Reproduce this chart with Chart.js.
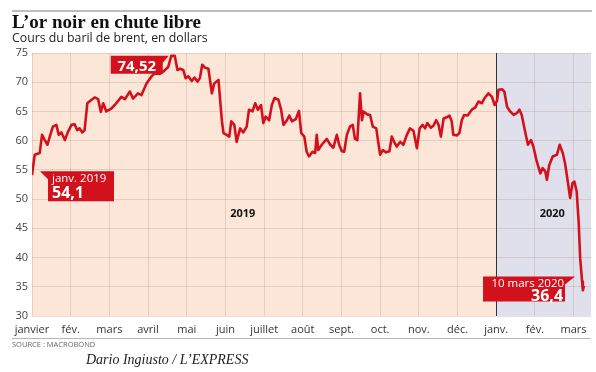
<!DOCTYPE html>
<html>
<head>
<meta charset="utf-8">
<script src="https://cdn.jsdelivr.net/npm/chart.js@4/dist/chart.umd.min.js"></script>
<style>
html,body{margin:0;padding:0;background:#fff;}
#wrap{width:596px;height:372px;position:relative;}
</style>
</head>
<body>
<div id="wrap"><canvas id="c" width="596" height="372"></canvas></div>
<script>
// Month tick labels (x = months since 1 Jan 2019)
const monthLabels = ['janvier','fév.','mars','avril','mai','juin','juillet','août','sept.','oct.','nov.','déc.','janv.','fév.','mars'];
const yearLabels = ['2019','2020'];
// Brent price, x in months since January 2019
const xMonths = [0.00,0.07,0.20,0.26,0.33,0.40,0.46,0.54,0.63,0.69,0.76,0.85,0.93,1.02,1.10,1.17,1.23,1.30,1.36,1.43,
1.50,1.62,1.71,1.78,1.84,1.92,2.05,2.14,2.31,2.40,2.53,2.61,2.74,2.83,2.96,3.09,3.17,3.30,3.39,3.52,
3.60,3.69,3.76,3.83,3.91,3.97,4.04,4.13,4.20,4.28,4.34,4.40,4.47,4.56,4.65,4.71,4.82,4.91,4.95,5.03,
5.10,5.15,5.23,5.29,5.38,5.46,5.55,5.61,5.70,5.77,5.84,5.92,5.98,6.04,6.13,6.20,6.27,6.37,6.44,6.50,
6.59,6.65,6.72,6.82,6.90,6.96,7.04,7.10,7.16,7.25,7.32,7.36,7.40,7.49,7.62,7.71,7.79,7.88,7.94,8.01,
8.07,8.14,8.22,8.29,8.35,8.41,8.48,8.53,8.57,8.66,8.74,8.81,8.90,8.96,9.00,9.07,9.15,9.24,9.30,9.36,
9.43,9.52,9.60,9.69,9.77,9.86,9.95,10.02,10.10,10.16,10.22,10.31,10.38,10.45,10.51,10.57,10.64,10.72,10.79,10.85,
10.89,10.98,11.05,11.11,11.17,11.26,11.37,11.46,11.54,11.63,11.70,11.80,11.89,11.96,12.02,12.06,12.15,12.21,12.28,12.36,
12.45,12.53,12.60,12.66,12.73,12.82,12.90,12.96,13.05,13.14,13.20,13.27,13.31,13.37,13.46,13.57,13.64,13.72,13.78,13.85,
13.91,13.97,14.02,14.08,14.13,14.17,14.22,14.24,14.27];
const brent = [54.1,57.6,57.9,61.0,60.1,59.3,60.7,62.4,62.7,61.0,61.4,60.1,61.5,62.7,62.8,61.8,62.1,61.4,61.8,66.4,
66.8,67.4,67.1,64.9,66.4,65.0,65.5,66.1,67.5,67.1,68.4,67.2,68.1,67.8,69.8,71.0,71.5,71.4,71.8,72.6,
74.5,74.52,72.1,72.3,72.1,70.7,71.0,70.2,70.8,70.1,70.7,73.0,72.5,72.3,68.1,69.8,70.4,63.3,61.3,61.0,
60.7,63.3,62.7,59.8,62.1,61.4,62.4,65.3,65.0,66.4,65.3,66.1,63.0,64.1,63.5,66.1,67.3,67.0,65.3,62.7,
63.5,64.3,63.3,63.7,65.1,61.3,60.7,58.1,57.3,58.1,57.9,61.0,58.4,59.3,60.3,59.3,58.8,61.0,59.3,58.2,
58.1,61.0,62.4,62.7,60.3,60.1,68.1,63.5,65.0,64.5,64.4,62.4,62.1,59.3,57.6,58.4,58.0,58.2,60.7,59.8,
59.0,59.8,59.3,61.0,62.1,61.7,58.7,62.1,62.7,62.1,63.0,62.2,62.6,63.5,62.7,60.7,63.8,64.0,64.3,63.3,
61.0,60.9,61.3,63.5,64.4,64.3,65.3,65.7,66.7,66.4,67.3,68.1,67.5,66.1,66.8,68.7,68.8,68.4,65.8,65.0,
64.4,64.7,65.3,64.4,62.1,59.3,60.1,59.0,56.4,54.4,55.3,54.7,53.3,55.8,57.3,57.6,59.3,57.9,56.1,53.0,
50.2,52.7,53.0,51.3,46.2,39.9,35.9,34.4,35.2];
const callouts = [
  {title:'', value:'74,52', x:3.69, y:74.52},
  {title:'janv. 2019', value:'54,1', x:0.00, y:54.1},
  {title:'10 mars 2020', value:'36,4', x:14.27, y:35.2}
];

const RED = '#d3111c';
const FONT = '"Open Sans", "DejaVu Sans", sans-serif';

const deco = {
  id:'deco',
  beforeDraw(chart){
    const {ctx, chartArea:a, scales:{x}} = chart;
    ctx.save();
    ctx.fillStyle = '#fff';
    ctx.fillRect(0,0,chart.width,chart.height);
    ctx.fillStyle = '#fbe6d8';
    ctx.fillRect(a.left,a.top,a.right-a.left,a.bottom-a.top);
    const x12 = x.getPixelForValue(12);
    ctx.fillStyle = '#dfe0ec';
    ctx.fillRect(x12,a.top,a.right-x12,a.bottom-a.top);
    ctx.restore();
  },
  beforeDatasetsDraw(chart){
    const {ctx, chartArea:a, scales:{x,y}} = chart;
    ctx.save();
    const x12 = Math.round(x.getPixelForValue(12))+0.5;
    ctx.strokeStyle = '#333';
    ctx.lineWidth = 1;
    ctx.beginPath(); ctx.moveTo(x12,a.top); ctx.lineTo(x12,a.bottom); ctx.stroke();
    // year labels
    ctx.fillStyle = '#111';
    ctx.font = 'bold 11px ' + FONT;
    ctx.textAlign = 'center'; ctx.textBaseline = 'middle';
    ctx.fillText(yearLabels[0], x.getPixelForValue(5.45), y.getPixelForValue(47.4));
    ctx.fillText(yearLabels[1], x.getPixelForValue(13.45), y.getPixelForValue(47.4));
    ctx.restore();
  },
  afterDraw(chart){
    const {ctx, chartArea:a, scales:{x,y}} = chart;
    ctx.save();
    // top rule
    ctx.strokeStyle = '#bdbdbd'; ctx.lineWidth = 2;
    ctx.beginPath(); ctx.moveTo(12,11); ctx.lineTo(592,11); ctx.stroke();
    // title
    ctx.fillStyle = '#111';
    ctx.font = 'bold 19px "Liberation Serif", "DejaVu Serif", serif';
    ctx.textAlign = 'left'; ctx.textBaseline = 'alphabetic';
    ctx.fillText('L\u2019or noir en chute libre', 12, 28);
    ctx.font = '12.3px ' + FONT;
    ctx.fillStyle = '#222';
    ctx.fillText('Cours du baril de brent, en dollars', 12, 42);
    // bottom rule + source
    ctx.strokeStyle = '#b5b5b5'; ctx.lineWidth = 1;
    ctx.beginPath(); ctx.moveTo(12,338.5); ctx.lineTo(591,338.5); ctx.stroke();
    ctx.fillStyle = '#666';
    ctx.font = '7.5px ' + FONT;
    ctx.fillText('SOURCE : MACROBOND', 12, 347);
    ctx.fillStyle = '#222';
    ctx.font = 'italic 14px "Liberation Serif", "DejaVu Serif", serif';
    ctx.fillText('Dario Ingiusto / L\u2019EXPRESS', 86, 364);

    // callouts
    ctx.fillStyle = RED;
    // 1: peak
    let c = callouts[0];
    let px = x.getPixelForValue(c.x), py = y.getPixelForValue(c.y);
    ctx.beginPath();
    ctx.moveTo(px-64,py); ctx.lineTo(px-6,py); ctx.lineTo(px-12,py+7);
    ctx.lineTo(px-12,py+18); ctx.lineTo(px-64,py+18); ctx.closePath(); ctx.fill();
    ctx.fillStyle = '#fff';
    ctx.font = 'bold 15px ' + FONT;
    ctx.textAlign = 'center'; ctx.textBaseline = 'alphabetic';
    ctx.fillText(c.value, px-38, py+15);
    // 2: start
    c = callouts[1];
    px = x.getPixelForValue(c.x); py = y.getPixelForValue(c.y);
    ctx.fillStyle = RED;
    ctx.beginPath();
    ctx.moveTo(px+8,py-4); ctx.lineTo(px+82,py-4); ctx.lineTo(px+82,py+26);
    ctx.lineTo(px+16,py+26); ctx.lineTo(px+16,py+4); ctx.closePath(); ctx.fill();
    ctx.fillStyle = '#fff'; ctx.textAlign = 'left';
    ctx.font = '11.5px ' + FONT;
    ctx.fillText(c.title, px+20, py+7);
    ctx.font = 'bold 16px ' + FONT;
    ctx.fillText(c.value, px+20, py+23);
    // 3: end
    c = callouts[2];
    px = x.getPixelForValue(c.x); py = y.getPixelForValue(c.y);
    ctx.fillStyle = RED;
    ctx.beginPath();
    ctx.moveTo(px-101,py-9); ctx.lineTo(px-9,py-9); ctx.lineTo(px-19,py-1);
    ctx.lineTo(px-19,py+16); ctx.lineTo(px-101,py+16); ctx.closePath(); ctx.fill();
    ctx.fillStyle = '#fff'; ctx.textAlign = 'right';
    ctx.font = '11.5px ' + FONT;
    ctx.fillText(c.title, px-20, py+1);
    ctx.font = 'bold 16px ' + FONT;
    ctx.fillText(c.value, px-21, py+15);
    ctx.restore();
  }
};

new Chart(document.getElementById('c'), {
  type:'line',
  data:{
    datasets:[{
      data: xMonths.map((m,i)=>({x:m, y:brent[i]})),
      borderColor: RED,
      borderWidth: 2.6,
      pointRadius: 0,
      tension: 0,
      fill: false,
      borderJoinStyle: 'round'
    }]
  },
  options:{
    responsive:false,
    animation:false,
    layout:{padding:{left:0,right:5,top:53,bottom:34}},
    plugins:{legend:{display:false}, tooltip:{enabled:false}},
    scales:{
      x:{
        type:'linear', min:0, max:14.45,
        afterFit(s){ s.height = 22; },
        border:{display:false},
        grid:{color:'rgba(160,120,100,0.22)', drawTicks:false, lineWidth:1},
        ticks:{
          stepSize:1, includeBounds:false, autoSkip:false, maxRotation:0,
          padding:7, color:'#333', font:{family:FONT, size:11},
          callback:(v)=> Number.isInteger(v) ? monthLabels[v] : ''
        }
      },
      y:{
        min:30, max:75,
        afterFit(s){ s.width = 32; },
        border:{display:false},
        grid:{color:'rgba(160,120,100,0.22)', drawTicks:false, lineWidth:1},
        ticks:{stepSize:5, padding:4, color:'#444', font:{family:FONT, size:11}}
      }
    }
  },
  plugins:[deco]
});
</script>
</body>
</html>
